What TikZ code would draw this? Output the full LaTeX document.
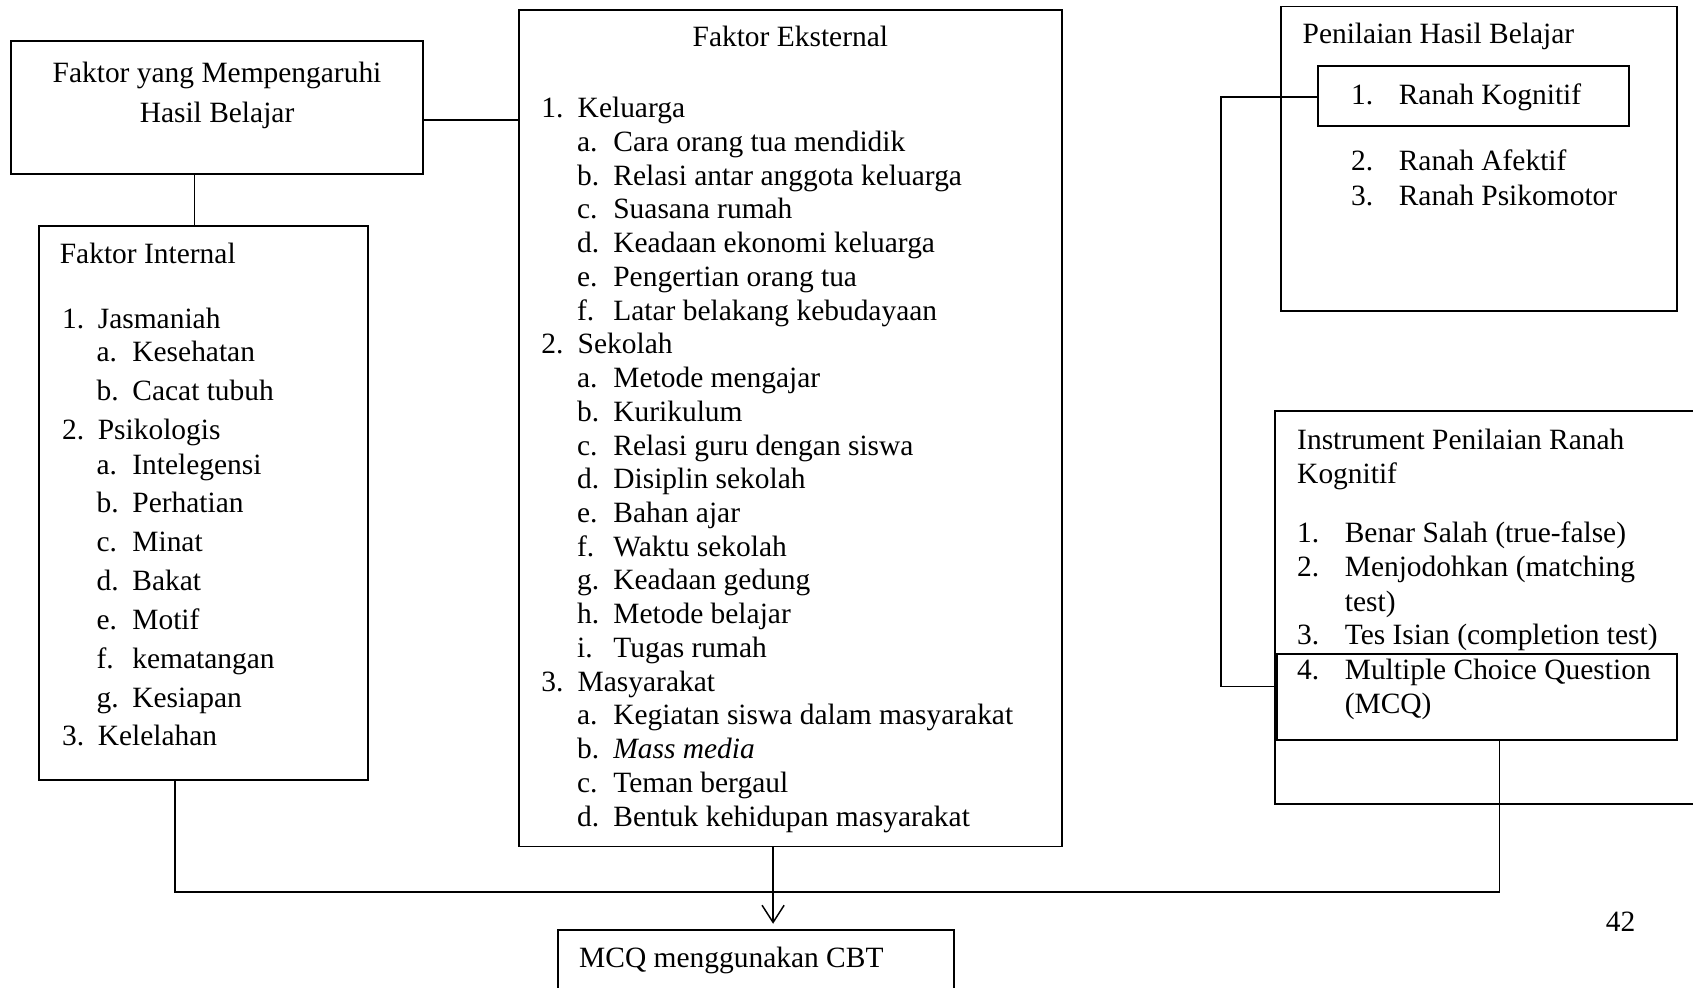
\documentclass[tikz,border=0pt]{standalone}
\usepackage{fontspec}
\setmainfont{Liberation Serif}
\usetikzlibrary{fit,arrows.meta}
\begin{document}
\begin{tikzpicture}[x=0.44pt,y=-0.44pt,
  box/.style={draw, line width=0.8pt, inner sep=0pt},
  lbl/.style={anchor=base west, inner sep=0pt, font=\fontsize{12}{14}\selectfont},
  conn/.style={line width=0.6pt},
]
\useasboundingbox (0,0) rectangle (1568,915);
\clip (0,0) rectangle (1568,915);
\fill[white] (0,0) rectangle (1568,915);

% boxes
\node[box, fit={(10,38) (392,161)}] (A) {};
\node[box, fit={(481,9) (984,784)}] (ext) {};
\node[box, fit={(36,209) (341,722)}] (int) {};
\node[box, fit={(1186,6) (1553,288)}] (pen) {};
\node[box, fit={(1221,61) (1509,117)}] (kog) {};
\node[box, fit={(1181,381) (1600,745)}] (ins) {};
\node[box, fit={(1183,606) (1553,685)}] (mcq) {};
\node[box, fit={(517,861) (884,940)}] (cbt) {};

% titles
\node[lbl, anchor=base] (tA1) at (201,76) {Faktor yang Mempengaruhi};
\node[lbl, anchor=base] (tA2) at (201,113) {Hasil Belajar};
\node[lbl, anchor=base] (tExt) at (732,43) {Faktor Eksternal};
\node[lbl] (tInt) at (55,244) {Faktor Internal};
\node[lbl] (tPen) at (1206,40) {Penilaian Hasil Belajar};
\node[lbl] (tIns1) at (1201,416) {Instrument Penilaian Ranah};
\node[lbl] (tIns2) at (1201,448) {Kognitif};
\node[lbl] (tCbt) at (536,896) {MCQ menggunakan CBT};
\node[lbl, anchor=base] (pg) at (1501,863) {42};

% Faktor Eksternal list
\foreach \x/\n/\t [count=\k from 0] in {
  501/1./Keluarga,
  534/a./Cara orang tua mendidik,
  534/b./Relasi antar anggota keluarga,
  534/c./Suasana rumah,
  534/d./Keadaan ekonomi keluarga,
  534/e./Pengertian orang tua,
  534/f./Latar belakang kebudayaan,
  501/2./Sekolah,
  534/a./Metode mengajar,
  534/b./Kurikulum,
  534/c./Relasi guru dengan siswa,
  534/d./Disiplin sekolah,
  534/e./Bahan ajar,
  534/f./Waktu sekolah,
  534/g./Keadaan gedung,
  534/h./Metode belajar,
  534/i./Tugas rumah,
  501/3./Masyarakat,
  534/a./Kegiatan siswa dalam masyarakat,
  534/b./{\textit{Mass media}},
  534/c./Teman bergaul,
  534/d./Bentuk kehidupan masyarakat}
  {\node[lbl] (ex-\k) at ({\x},{109+31.24*\k}) {\makebox[14.8pt][l]{\n}\t};}

% Faktor Internal list
\foreach \x/\y/\n/\t [count=\k] in {
  57/304/1./Jasmaniah,
  89/335/a./Kesehatan,
  89/371/b./Cacat tubuh,
  57/407/2./Psikologis,
  89/439/a./Intelegensi,
  89/475/b./Perhatian,
  89/511/c./Minat,
  89/547/d./Bakat,
  89/583/e./Motif,
  89/619/f./kematangan,
  89/655/g./Kesiapan,
  57/690/3./Kelelahan}
  {\node[lbl] (in-\k) at ({\x},{\y}) {\makebox[14.6pt][l]{\n}\t};}

% Penilaian list
\foreach \y/\n/\t [count=\k] in {97/1./Ranah Kognitif, 158/2./Ranah Afektif, 190/3./Ranah Psikomotor}
  {\node[lbl] (pe-\k) at (1251,{\y}) {\makebox[19.4pt][l]{\n}\t};}

% Instrument list
\foreach \y/\n/\t [count=\k] in {
  502/1./Benar Salah (true-false),
  534/2./Menjodohkan (matching,
  566//test),
  597/3./Tes Isian (completion test),
  629/4./Multiple Choice Question,
  661//(MCQ)}
  {\node[lbl] (is-\k) at (1201,{\y}) {\makebox[19.4pt][l]{\n}\t};}

% connector helper coordinates
\coordinate (yAE) at (0,111);
\coordinate (xAI) at (180,0);
\coordinate (xK) at (1131,90);
\coordinate (yM) at (0,636);
\coordinate (xI) at (162,0);
\coordinate (xM) at (1389,0);
\coordinate (yB) at (0,826);
\coordinate (xE) at (716,0);

% connectors
\draw[conn] (A.east |- yAE) -- (ext.west |- yAE);
\draw[conn] (A.south -| xAI) -- (int.north -| xAI);
\draw[conn] (kog.west |- xK) -- (xK) -- (xK |- yM) -- (mcq.west |- yM);
\draw[conn] (int.south -| xI) -- (xI |- yB) -- (xM |- yB) -- (mcq.south -| xM);
\draw[conn, -{Straight Barb[length=7pt,width=9pt,line width=0.6pt]}, shorten >=2pt]
  (ext.south -| xE) -- (cbt.north -| xE);
\end{tikzpicture}
\end{document}
